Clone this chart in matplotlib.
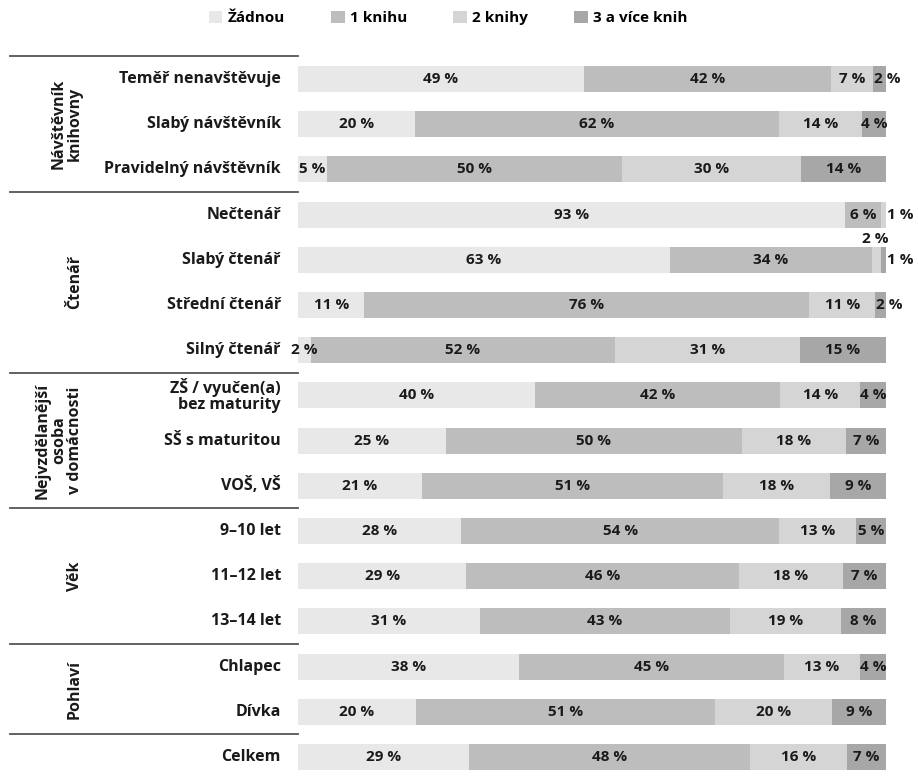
import numpy as np
import matplotlib
matplotlib.use('Agg')
import matplotlib.pyplot as plt
from matplotlib.patches import Patch
from matplotlib.transforms import blended_transform_factory

plt.rcParams['font.family'] = ['Open Sans', 'DejaVu Sans']
plt.rcParams['font.weight'] = 'bold'

# ---------------- Data ----------------
rows = ['Teměř nenavštěvuje', 'Slabý návštěvník', 'Pravidelný návštěvník',
        'Nečtenář', 'Slabý čtenář', 'Střední čtenář', 'Silný čtenář',
        'ZŠ / vyučen(a)\nbez maturity', 'SŠ s maturitou', 'VOŠ, VŠ',
        '9–10 let', '11–12 let', '13–14 let',
        'Chlapec', 'Dívka', 'Celkem']

series = ['Žádnou', '1 knihu', '2 knihy', '3 a více knih']

zadnou = [48.6, 19.85, 4.91, 93.0, 63.26, 11.3, 2.15, 40.3, 25.17, 21.06,
          27.73, 28.6, 30.96, 37.55, 20.05, 29.07]
jedna = [42.0, 61.98, 50.27, 6.19, 34.39, 75.64, 51.75, 41.7, 50.34, 51.21,
         54.1, 46.4, 42.53, 45.09, 50.87, 47.85]
dve = [7.2, 14.13, 30.42, 0.81, 1.55, 11.24, 31.49, 13.6, 17.7, 18.24,
       13.06, 17.7, 18.91, 12.99, 19.92, 16.49]
tri_vice = [2.2, 4.04, 14.4, 0.0, 0.81, 1.82, 14.6, 4.4, 6.8, 9.49,
            5.11, 7.3, 7.6, 4.37, 9.15, 6.6]

groups = ['Návštěvník\nknihovny', 'Čtenář', 'Nejvzdělanější\nosoba\nv domácnosti',
          'Věk', 'Pohlaví']
group_rows = [(0, 2), (3, 6), (7, 9), (10, 12), (13, 14)]

colors = ['#e8e8e8', '#bdbdbd', '#d5d5d5', '#a7a7a7']

# ---------------- Figure ----------------
W, H = 918, 776
fig = plt.figure(figsize=(W / 100, H / 100), dpi=100)
ax = fig.add_axes([298 / W, 0, 588 / W, 1])
ax.set_xlim(0, 100)
row_h = 45.2
ax.set_ylim((H - 79) / row_h, -79 / row_h)
ax.axis('off')

values = np.array([zadnou, jedna, dve, tri_vice])
y = np.arange(len(rows))
left = np.zeros(len(rows))
bar_h = 0.575
for j, name in enumerate(series):
    ax.barh(y, values[j], left=left, height=bar_h, color=colors[j],
            edgecolor='none', label=name)
    left += values[j]

# value labels
fs_val = 11
lab_kw = dict(fontsize=fs_val, fontweight='bold', color='#1a1a1a', va='center')
for i in range(len(rows)):
    start = 0.0
    for j in range(len(series)):
        v = values[j, i]
        if v <= 0:
            continue
        txt = f'{int(round(v))} %'
        nxt = values[j + 1, i] if j + 1 < len(series) else 0
        if v < 1.2:
            ax.text(100.2, i, txt, ha='left', **lab_kw)
        elif v < 2.5 and j > 0 and 0 < nxt < 1.2:
            # two tiny segments at the end: put this one above the bar
            ax.text(100.4, i - bar_h / 2 - 0.02, txt, ha='right',
                    fontsize=fs_val, fontweight='bold', color='#1a1a1a', va='bottom')
        elif v < 2.5 and j > 0:
            ax.text(start + 0.1, i, txt, ha='left', **lab_kw)
        else:
            ax.text(start + v / 2, i, txt, ha='center', **lab_kw)
        start += v

# row labels, group labels, separators
tr = blended_transform_factory(fig.transFigure, ax.transData)
for i, r in enumerate(rows):
    ax.text(281 / W, i, r, transform=tr, ha='right', va='center',
            fontsize=11.5, fontweight='bold', color='#1a1a1a', linespacing=1.0)

for g, (a, b) in zip(groups, group_rows):
    ax.text(83 / W, (a + b) / 2, g, transform=tr, rotation=90, ha='right',
            va='center', multialignment='center', fontsize=11.5,
            fontweight='bold', color='#1a1a1a', linespacing=1.0)

for ypos in [-0.5, 2.5, 6.5, 9.5, 12.5, 14.5]:
    ax.plot([10 / W, 298 / W], [ypos, ypos], transform=tr, color='#555555',
            lw=1.3, clip_on=False)

# legend
handles = [Patch(facecolor=c, edgecolor='none') for c in colors]
fig.legend(handles, series, loc='center', ncol=4, frameon=False,
           bbox_to_anchor=(448 / W, 1 - 18 / H),
           handlelength=0.9, handleheight=0.9, handletextpad=0.35,
           columnspacing=3.0, prop={'weight': 'bold', 'size': 11})

fig.savefig('out.png', dpi=100)
